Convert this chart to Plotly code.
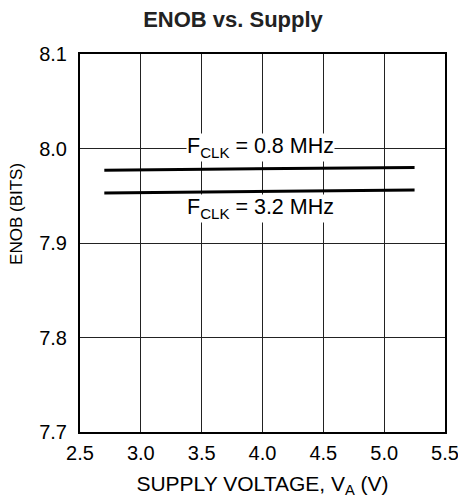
import plotly.graph_objects as go

supply_v = [2.7, 5.25]
enob_08mhz = [7.977, 7.980]
enob_32mhz = [7.953, 7.956]
x_ticks = [2.5, 3.0, 3.5, 4.0, 4.5, 5.0, 5.5]
y_ticks = [7.7, 7.8, 7.9, 8.0, 8.1]
labels = ["F<sub>CLK</sub> = 0.8 MHz", "F<sub>CLK</sub> = 3.2 MHz"]

font_family = "Liberation Sans, Arial, sans-serif"

# the page body has an 8px margin, so the figure is 8px smaller than the window
W, H = 458, 496

fig = go.Figure()
fig.add_trace(go.Scatter(x=supply_v, y=enob_08mhz, mode="lines",
                         line=dict(color="black", width=3), showlegend=False))
fig.add_trace(go.Scatter(x=supply_v, y=enob_32mhz, mode="lines",
                         line=dict(color="black", width=3), showlegend=False))

fig.add_annotation(x=3.98, y=8.001, text=labels[0], showarrow=False,
                   font=dict(family=font_family, size=21.5, color="black"),
                   bgcolor="white", borderpad=0)
fig.add_annotation(x=3.98, y=7.936, text=labels[1], showarrow=False,
                   font=dict(family=font_family, size=21.5, color="black"),
                   bgcolor="white", borderpad=0)

# y-axis title (placed slightly above centre as in the reference)
fig.add_annotation(xref="paper", yref="paper", x=-0.1726, y=0.577, text="ENOB (BITS)",
                   textangle=-90, showarrow=False, xanchor="center", yanchor="middle",
                   font=dict(family=font_family, size=17, color="black"))

fig.update_layout(
    width=W, height=H,
    margin=dict(l=72, r=21, t=46, b=72),
    paper_bgcolor="white", plot_bgcolor="white",
    font=dict(family=font_family, size=20, color="black"),
    title=dict(text="<b>ENOB vs. Supply</b>", x=(233 - 8) / W, xanchor="center", xref="container",
               y=1 - 11 / H, yanchor="middle",
               font=dict(family=font_family, size=22, color="#222222")),
)
fig.update_xaxes(range=[2.5, 5.5], tickvals=x_ticks, ticktext=[f"{v:.1f}" for v in x_ticks],
                 showgrid=True, gridcolor="#222222", gridwidth=1, zeroline=False,
                 showline=True, linecolor="black", linewidth=2, mirror=True, ticks="",
                 automargin=False, ticklabelstandoff=2,
                 title=dict(text="SUPPLY VOLTAGE, V<sub>A</sub> (V)", standoff=13,
                            font=dict(size=21)))
fig.update_yaxes(range=[7.7, 8.1], tickvals=y_ticks, ticktext=[f"{v:.1f}" for v in y_ticks],
                 showgrid=True, gridcolor="#222222", gridwidth=1, zeroline=False,
                 showline=True, linecolor="black", linewidth=2, mirror=True, ticks="",
                 automargin=False, ticklabelstandoff=7)

fig.write_html("out.html")
